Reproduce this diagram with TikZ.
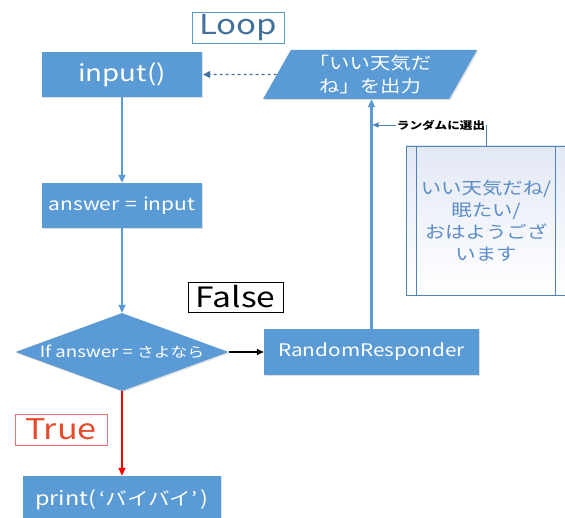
\documentclass[tikz,border=0pt]{standalone}
\usepackage{fontspec}
\setmainfont{Noto Sans CJK JP}[FakeStretch=1.2]
\usetikzlibrary{shapes.geometric,arrows.meta,shadows}
\definecolor{boxblue}{HTML}{5B9BD5}
\definecolor{darkblue}{HTML}{41719C}
\definecolor{looptext}{HTML}{41719C}
\definecolor{truered}{HTML}{E84A2C}
\definecolor{trueborder}{HTML}{F07070}
\definecolor{predef}{HTML}{4F81BD}
\definecolor{predeftext}{HTML}{5B8CC8}
\definecolor{predefshade}{HTML}{E2E8F4}
\newcommand{\fs}[1]{\fontsize{#1}{#1}\selectfont}
\tikzset{
  proc/.style={rectangle, fill=boxblue, text=white, inner sep=0pt,
    drop shadow={shadow xshift=1.2pt, shadow yshift=-1.2pt, opacity=0.25, fill=gray}},
  tag/.style={rectangle, draw, line width=0.8pt, inner sep=0pt},
  flow/.style={draw=boxblue, line width=2.2pt, -{Triangle[length=8pt,width=7pt]}},
}
\begin{document}
\begin{tikzpicture}[x=1pt,y=-1pt]
\useasboundingbox (0,0) rectangle (565,518);
% tags
\node[tag, draw=boxblue, text=looptext, minimum width=92, minimum height=31, font=\fs{27.5}] (loop) at (238,28) {Loop};
\node[tag, draw=black, text=black, minimum width=95, minimum height=30, font=\fs{28}] (false) at (235.5,297) {False};
\node[tag, draw=trueborder, text=truered, minimum width=92, minimum height=31, font=\fs{28.5}] (true) at (61,429.5) {True};
% process boxes
\node[proc, minimum width=160, minimum height=45, font=\fs{23}] (inp) at (122,74.5) {input()};
\node[proc, minimum width=160, minimum height=45, font=\fs{17.5}] (ans) at (122,205.5) {answer\,\,=\,\,input};
\node[diamond, fill=boxblue, inner sep=0pt, minimum width=213, minimum height=78,
  drop shadow={shadow xshift=1.2pt, shadow yshift=-1.2pt, opacity=0.25, fill=gray}] (dec) at (122,352) {};
\node[text=white, font=\fs{15.5}] (dectxt) at (dec.center) {If answer = {\fs{14}さよなら}};
\node[proc, minimum width=215, minimum height=46, font=\fs{17.3}] (rr) at (371.5,352) {RandomResponder};
\node[proc, minimum width=198, minimum height=48, font=\fs{19.5}] (prt) at (122,500) {print(\,{\fs{18}‘バイバイ’}\,)};
% parallelogram
\node[trapezium, trapezium left angle=61, trapezium right angle=119, trapezium stretches=true,
  fill=boxblue, text=white, inner sep=0pt, minimum width=214, minimum height=49, align=center,
  font=\fontsize{17}{23}\selectfont,
  drop shadow={shadow xshift=1.2pt, shadow yshift=-1.2pt, opacity=0.25, fill=gray}] (para) at (370,74.5) {「いい天気だ\\ね」を出力};
% predefined process box
\node[rectangle, draw=predef, line width=0.8pt, top color=predefshade, bottom color=white,
  minimum width=160, minimum height=149, inner sep=0pt, align=center, text=predeftext,
  font=\fontsize{17}{22}\selectfont] (words) at (486,220.5) {いい天気だね/\\眠たい/\\おはようござ\\います};
\draw[predef, line width=0.8pt] ([xshift=11pt]words.north west) -- ([xshift=11pt]words.south west);
\draw[predef, line width=0.8pt] ([xshift=-11pt]words.north east) -- ([xshift=-11pt]words.south east);
% selection label
\node[font=\fs{10.5}\bfseries, inner sep=1pt] (sel) at (441,125) {ランダムに選出};
\draw[predef, line width=0.8pt] (words.north) -- (words.north |- sel.east);
% connectors
\draw[flow] (inp) -- (ans);
\draw[flow] (ans) -- (dec);
\draw[draw=black, line width=1.5pt, -{Triangle[length=7pt,width=6pt]}] (dec.east) -- (rr.west);
\draw[draw=red, line width=2pt, -{Triangle[length=8pt,width=7pt]}] (dec.south) -- (prt.north);
\draw[flow] (rr.north) -- (rr.north |- para.south);
\draw[draw=darkblue, line width=1.2pt, dashed, -{Triangle[length=7pt,width=7pt]}] (para.west) -- ([xshift=1pt]inp.east);
\draw[draw=predef, line width=0.8pt, -{Triangle[length=6pt,width=5pt]}] (sel.west) -- ([xshift=1pt]sel.west -| rr.north);
\end{tikzpicture}
\end{document}
